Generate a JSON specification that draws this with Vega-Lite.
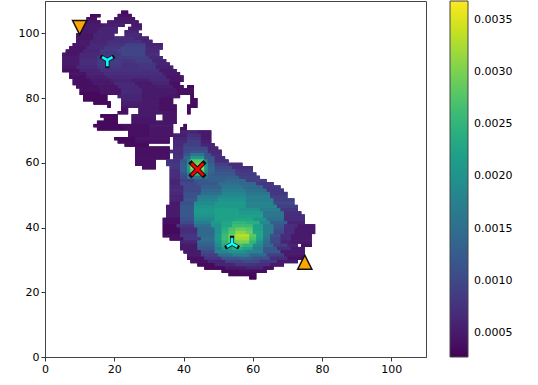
{"$schema":"https://vega.github.io/schema/vega-lite/v6.json","autosize":"none","padding":{"left":45,"top":1,"right":112,"bottom":28},"width":381,"height":356,"background":"white","config":{"view":{"stroke":"#444","strokeWidth":1},"font":"DejaVu Sans"},
"datasets":{"cells":[
{"x":22,"x2":24,"y":106.5,"v":0.00035},{"x":13,"x2":16,"y":105.5,"v":0.00035},{"x":21,"x2":25,"y":105.5,"v":0.0004},{"x":12,"x2":15,"y":104.5,"v":0.0004},{"x":20,"x2":26,"y":104.5,"v":0.00045},{"x":11,"x2":16,"y":103.5,"v":0.00045},{"x":18,"x2":22,"y":103.5,"v":0.0005},{"x":22,"x2":27,"y":103.5,"v":0.0005},{"x":11,"x2":17,"y":102.5,"v":0.0005},{"x":17,"x2":23,"y":102.5,"v":0.00055},{"x":25,"x2":28,"y":102.5,"v":0.0005},{"x":10,"x2":16,"y":101.5,"v":0.0005},{"x":16,"x2":21,"y":101.5,"v":0.0006},{"x":24,"x2":28,"y":101.5,"v":0.00055},{"x":10,"x2":15,"y":100.5,"v":0.0005},{"x":15,"x2":21,"y":100.5,"v":0.0006},{"x":23,"x2":27,"y":100.5,"v":0.0006},{"x":9,"x2":14,"y":99.5,"v":0.00045},{"x":14,"x2":20,"y":99.5,"v":0.0006},{"x":23,"x2":28,"y":99.5,"v":0.00065},{"x":9,"x2":14,"y":98.5,"v":0.00045},{"x":14,"x2":20,"y":98.5,"v":0.0006},{"x":20,"x2":26,"y":98.5,"v":0.0007},{"x":26,"x2":30,"y":98.5,"v":0.0006},{"x":9,"x2":13,"y":97.5,"v":0.0005},{"x":13,"x2":18,"y":97.5,"v":0.0006},{"x":18,"x2":24,"y":97.5,"v":0.0007},{"x":24,"x2":28,"y":97.5,"v":0.00075},{"x":28,"x2":31,"y":97.5,"v":0.0006},{"x":8,"x2":13,"y":96.5,"v":0.0005},{"x":13,"x2":18,"y":96.5,"v":0.00065},{"x":18,"x2":23,"y":96.5,"v":0.00075},{"x":23,"x2":29,"y":96.5,"v":0.0009},{"x":29,"x2":34,"y":96.5,"v":0.0006},{"x":7,"x2":12,"y":95.5,"v":0.00045},{"x":12,"x2":17,"y":95.5,"v":0.00065},{"x":17,"x2":22,"y":95.5,"v":0.0008},{"x":22,"x2":29,"y":95.5,"v":0.00095},{"x":29,"x2":34,"y":95.5,"v":0.00065},{"x":6,"x2":11,"y":94.5,"v":0.00045},{"x":11,"x2":16,"y":94.5,"v":0.0006},{"x":16,"x2":21,"y":94.5,"v":0.0008},{"x":21,"x2":29,"y":94.5,"v":0.00095},{"x":29,"x2":33,"y":94.5,"v":0.00065},{"x":5,"x2":10,"y":93.5,"v":0.00045},{"x":10,"x2":16,"y":93.5,"v":0.00065},{"x":16,"x2":22,"y":93.5,"v":0.0008},{"x":22,"x2":29,"y":93.5,"v":0.00095},{"x":29,"x2":33,"y":93.5,"v":0.0007},{"x":5,"x2":10,"y":92.5,"v":0.0005},{"x":10,"x2":15,"y":92.5,"v":0.00065},{"x":15,"x2":21,"y":92.5,"v":0.0008},{"x":21,"x2":25,"y":92.5,"v":0.00085},{"x":25,"x2":30,"y":92.5,"v":0.0009},{"x":30,"x2":34,"y":92.5,"v":0.00065},{"x":5,"x2":10,"y":91.5,"v":0.0005},{"x":10,"x2":15,"y":91.5,"v":0.0007},{"x":15,"x2":22,"y":91.5,"v":0.00085},{"x":22,"x2":26,"y":91.5,"v":0.0008},{"x":26,"x2":31,"y":91.5,"v":0.0009},{"x":31,"x2":35,"y":91.5,"v":0.0006},{"x":5,"x2":10,"y":90.5,"v":0.0005},{"x":10,"x2":15,"y":90.5,"v":0.0007},{"x":15,"x2":22,"y":90.5,"v":0.00085},{"x":22,"x2":27,"y":90.5,"v":0.00075},{"x":27,"x2":32,"y":90.5,"v":0.0008},{"x":32,"x2":36,"y":90.5,"v":0.0006},{"x":5,"x2":9,"y":89.5,"v":0.00045},{"x":9,"x2":15,"y":89.5,"v":0.00065},{"x":15,"x2":22,"y":89.5,"v":0.0008},{"x":22,"x2":27,"y":89.5,"v":0.00075},{"x":27,"x2":32,"y":89.5,"v":0.0008},{"x":32,"x2":37,"y":89.5,"v":0.00055},{"x":5,"x2":10,"y":88.5,"v":0.0004},{"x":10,"x2":16,"y":88.5,"v":0.0006},{"x":16,"x2":22,"y":88.5,"v":0.00075},{"x":22,"x2":28,"y":88.5,"v":0.00075},{"x":28,"x2":33,"y":88.5,"v":0.00075},{"x":33,"x2":38,"y":88.5,"v":0.0005},{"x":7,"x2":12,"y":87.5,"v":0.00045},{"x":12,"x2":17,"y":87.5,"v":0.0006},{"x":17,"x2":23,"y":87.5,"v":0.0007},{"x":23,"x2":29,"y":87.5,"v":0.0007},{"x":29,"x2":34,"y":87.5,"v":0.0007},{"x":34,"x2":39,"y":87.5,"v":0.0005},{"x":7,"x2":12,"y":86.5,"v":0.0004},{"x":12,"x2":18,"y":86.5,"v":0.00055},{"x":18,"x2":24,"y":86.5,"v":0.00065},{"x":24,"x2":29,"y":86.5,"v":0.00065},{"x":29,"x2":35,"y":86.5,"v":0.00065},{"x":35,"x2":40,"y":86.5,"v":0.00045},{"x":8,"x2":13,"y":85.5,"v":0.0004},{"x":13,"x2":19,"y":85.5,"v":0.0005},{"x":19,"x2":25,"y":85.5,"v":0.0006},{"x":25,"x2":30,"y":85.5,"v":0.00055},{"x":30,"x2":36,"y":85.5,"v":0.00065},{"x":36,"x2":40,"y":85.5,"v":0.00045},{"x":8,"x2":14,"y":84.5,"v":0.0004},{"x":14,"x2":20,"y":84.5,"v":0.0005},{"x":20,"x2":26,"y":84.5,"v":0.00065},{"x":26,"x2":31,"y":84.5,"v":0.0005},{"x":31,"x2":36,"y":84.5,"v":0.0006},{"x":36,"x2":39,"y":84.5,"v":0.0004},{"x":9,"x2":15,"y":83.5,"v":0.0004},{"x":15,"x2":21,"y":83.5,"v":0.00045},{"x":21,"x2":27,"y":83.5,"v":0.00065},{"x":27,"x2":32,"y":83.5,"v":0.0005},{"x":32,"x2":37,"y":83.5,"v":0.00055},{"x":37,"x2":40,"y":83.5,"v":0.0004},{"x":41,"x2":43,"y":83.5,"v":0.00035},{"x":10,"x2":16,"y":82.5,"v":0.0004},{"x":16,"x2":22,"y":82.5,"v":0.00045},{"x":22,"x2":28,"y":82.5,"v":0.00065},{"x":28,"x2":33,"y":82.5,"v":0.0005},{"x":33,"x2":38,"y":82.5,"v":0.0005},{"x":38,"x2":43,"y":82.5,"v":0.0004},{"x":10,"x2":16,"y":81.5,"v":0.00035},{"x":16,"x2":22,"y":81.5,"v":0.00045},{"x":22,"x2":28,"y":81.5,"v":0.00065},{"x":28,"x2":34,"y":81.5,"v":0.0005},{"x":34,"x2":38,"y":81.5,"v":0.0005},{"x":38,"x2":43,"y":81.5,"v":0.0004},{"x":11,"x2":18,"y":80.5,"v":0.00035},{"x":21,"x2":28,"y":80.5,"v":0.0006},{"x":28,"x2":34,"y":80.5,"v":0.0005},{"x":34,"x2":39,"y":80.5,"v":0.00045},{"x":42,"x2":43,"y":80.5,"v":0.00035},{"x":11,"x2":18,"y":79.5,"v":0.00035},{"x":22,"x2":28,"y":79.5,"v":0.0006},{"x":28,"x2":33,"y":79.5,"v":0.0005},{"x":33,"x2":37,"y":79.5,"v":0.0004},{"x":42,"x2":44,"y":79.5,"v":0.00035},{"x":14,"x2":19,"y":78.5,"v":0.00035},{"x":22,"x2":28,"y":78.5,"v":0.00055},{"x":28,"x2":33,"y":78.5,"v":0.0005},{"x":33,"x2":37,"y":78.5,"v":0.0004},{"x":42,"x2":44,"y":78.5,"v":0.00035},{"x":18,"x2":19,"y":77.5,"v":0.00035},{"x":22,"x2":28,"y":77.5,"v":0.0005},{"x":28,"x2":33,"y":77.5,"v":0.0005},{"x":33,"x2":38,"y":77.5,"v":0.0004},{"x":41,"x2":44,"y":77.5,"v":0.00035},{"x":22,"x2":24,"y":76.5,"v":0.0004},{"x":27,"x2":33,"y":76.5,"v":0.0005},{"x":33,"x2":38,"y":76.5,"v":0.0004},{"x":41,"x2":42,"y":76.5,"v":0.00035},{"x":21,"x2":24,"y":75.5,"v":0.0004},{"x":27,"x2":33,"y":75.5,"v":0.0005},{"x":33,"x2":38,"y":75.5,"v":0.00045},{"x":41,"x2":42,"y":75.5,"v":0.00035},{"x":16,"x2":21,"y":74.5,"v":0.00035},{"x":25,"x2":32,"y":74.5,"v":0.0005},{"x":34,"x2":38,"y":74.5,"v":0.00045},{"x":17,"x2":21,"y":73.5,"v":0.00035},{"x":25,"x2":32,"y":73.5,"v":0.00045},{"x":34,"x2":38,"y":73.5,"v":0.00045},{"x":15,"x2":21,"y":72.5,"v":0.00035},{"x":25,"x2":32,"y":72.5,"v":0.00045},{"x":32,"x2":38,"y":72.5,"v":0.00045},{"x":14,"x2":22,"y":71.5,"v":0.00035},{"x":22,"x2":30,"y":71.5,"v":0.0004},{"x":30,"x2":37,"y":71.5,"v":0.0005},{"x":40,"x2":41,"y":71.5,"v":0.00035},{"x":15,"x2":23,"y":70.5,"v":0.00035},{"x":23,"x2":30,"y":70.5,"v":0.0004},{"x":30,"x2":37,"y":70.5,"v":0.00045},{"x":39,"x2":41,"y":70.5,"v":0.0004},{"x":24,"x2":30,"y":69.5,"v":0.0004},{"x":30,"x2":37,"y":69.5,"v":0.00045},{"x":39,"x2":44,"y":69.5,"v":0.0006},{"x":44,"x2":48,"y":69.5,"v":0.0005},{"x":24,"x2":30,"y":68.5,"v":0.0004},{"x":30,"x2":37,"y":68.5,"v":0.00045},{"x":37,"x2":41,"y":68.5,"v":0.00055},{"x":41,"x2":45,"y":68.5,"v":0.00075},{"x":45,"x2":48,"y":68.5,"v":0.0005},{"x":20,"x2":26,"y":67.5,"v":0.00035},{"x":26,"x2":36,"y":67.5,"v":0.00045},{"x":37,"x2":41,"y":67.5,"v":0.0006},{"x":41,"x2":45,"y":67.5,"v":0.0008},{"x":45,"x2":48,"y":67.5,"v":0.0005},{"x":21,"x2":26,"y":66.5,"v":0.00035},{"x":26,"x2":36,"y":66.5,"v":0.0004},{"x":37,"x2":41,"y":66.5,"v":0.00065},{"x":41,"x2":45,"y":66.5,"v":0.0009},{"x":45,"x2":48,"y":66.5,"v":0.00055},{"x":23,"x2":30,"y":65.5,"v":0.00035},{"x":37,"x2":40,"y":65.5,"v":0.00065},{"x":40,"x2":45,"y":65.5,"v":0.0009},{"x":45,"x2":49,"y":65.5,"v":0.0006},{"x":26,"x2":36,"y":64.5,"v":0.0004},{"x":37,"x2":40,"y":64.5,"v":0.0007},{"x":40,"x2":47,"y":64.5,"v":0.001},{"x":47,"x2":50,"y":64.5,"v":0.0006},{"x":26,"x2":36,"y":63.5,"v":0.0004},{"x":36,"x2":40,"y":63.5,"v":0.0007},{"x":40,"x2":42,"y":63.5,"v":0.001},{"x":42,"x2":47,"y":63.5,"v":0.0011},{"x":47,"x2":51,"y":63.5,"v":0.00065},{"x":26,"x2":36,"y":62.5,"v":0.0004},{"x":37,"x2":40,"y":62.5,"v":0.0007},{"x":40,"x2":42,"y":62.5,"v":0.0012},{"x":42,"x2":46,"y":62.5,"v":0.0016},{"x":46,"x2":48,"y":62.5,"v":0.0011},{"x":48,"x2":51,"y":62.5,"v":0.0007},{"x":26,"x2":36,"y":61.5,"v":0.0004},{"x":37,"x2":40,"y":61.5,"v":0.00075},{"x":40,"x2":42,"y":61.5,"v":0.0014},{"x":42,"x2":46,"y":61.5,"v":0.0021},{"x":46,"x2":49,"y":61.5,"v":0.0012},{"x":49,"x2":52,"y":61.5,"v":0.0007},{"x":26,"x2":32,"y":60.5,"v":0.0004},{"x":35,"x2":39,"y":60.5,"v":0.00075},{"x":39,"x2":41,"y":60.5,"v":0.0012},{"x":41,"x2":42,"y":60.5,"v":0.0018},{"x":42,"x2":46,"y":60.5,"v":0.0028},{"x":46,"x2":47,"y":60.5,"v":0.0018},{"x":47,"x2":49,"y":60.5,"v":0.0012},{"x":49,"x2":53,"y":60.5,"v":0.0007},{"x":26,"x2":32,"y":59.5,"v":0.0004},{"x":35,"x2":39,"y":59.5,"v":0.0008},{"x":39,"x2":41,"y":59.5,"v":0.0013},{"x":41,"x2":42,"y":59.5,"v":0.002},{"x":42,"x2":46,"y":59.5,"v":0.003},{"x":46,"x2":47,"y":59.5,"v":0.002},{"x":47,"x2":49,"y":59.5,"v":0.0013},{"x":49,"x2":53,"y":59.5,"v":0.0009},{"x":53,"x2":57,"y":59.5,"v":0.0007},{"x":28,"x2":32,"y":58.5,"v":0.0004},{"x":36,"x2":39,"y":58.5,"v":0.0008},{"x":39,"x2":41,"y":58.5,"v":0.0013},{"x":41,"x2":42,"y":58.5,"v":0.0021},{"x":42,"x2":46,"y":58.5,"v":0.0032},{"x":46,"x2":47,"y":58.5,"v":0.0021},{"x":47,"x2":49,"y":58.5,"v":0.0014},{"x":49,"x2":54,"y":58.5,"v":0.001},{"x":54,"x2":60,"y":58.5,"v":0.0007},{"x":36,"x2":39,"y":57.5,"v":0.0007},{"x":39,"x2":41,"y":57.5,"v":0.0013},{"x":41,"x2":42,"y":57.5,"v":0.002},{"x":42,"x2":46,"y":57.5,"v":0.0029},{"x":46,"x2":47,"y":57.5,"v":0.002},{"x":47,"x2":49,"y":57.5,"v":0.0014},{"x":49,"x2":55,"y":57.5,"v":0.0011},{"x":55,"x2":60,"y":57.5,"v":0.0008},{"x":36,"x2":39,"y":56.5,"v":0.0007},{"x":39,"x2":41,"y":56.5,"v":0.0011},{"x":41,"x2":42,"y":56.5,"v":0.0017},{"x":42,"x2":46,"y":56.5,"v":0.0025},{"x":46,"x2":47,"y":56.5,"v":0.0017},{"x":47,"x2":49,"y":56.5,"v":0.0013},{"x":49,"x2":55,"y":56.5,"v":0.0012},{"x":55,"x2":61,"y":56.5,"v":0.00085},{"x":36,"x2":39,"y":55.5,"v":0.0007},{"x":39,"x2":41,"y":55.5,"v":0.001},{"x":41,"x2":47,"y":55.5,"v":0.0016},{"x":47,"x2":50,"y":55.5,"v":0.0013},{"x":50,"x2":56,"y":55.5,"v":0.0013},{"x":56,"x2":62,"y":55.5,"v":0.0009},{"x":36,"x2":39,"y":54.5,"v":0.0006},{"x":39,"x2":43,"y":54.5,"v":0.0009},{"x":43,"x2":47,"y":54.5,"v":0.0012},{"x":47,"x2":52,"y":54.5,"v":0.0013},{"x":52,"x2":58,"y":54.5,"v":0.0014},{"x":58,"x2":64,"y":54.5,"v":0.0009},{"x":36,"x2":39,"y":53.5,"v":0.0006},{"x":39,"x2":44,"y":53.5,"v":0.001},{"x":44,"x2":50,"y":53.5,"v":0.0012},{"x":50,"x2":56,"y":53.5,"v":0.0015},{"x":56,"x2":61,"y":53.5,"v":0.0014},{"x":61,"x2":66,"y":53.5,"v":0.0008},{"x":36,"x2":40,"y":52.5,"v":0.00065},{"x":40,"x2":45,"y":52.5,"v":0.001},{"x":45,"x2":51,"y":52.5,"v":0.0013},{"x":51,"x2":57,"y":52.5,"v":0.0016},{"x":57,"x2":63,"y":52.5,"v":0.0014},{"x":63,"x2":68,"y":52.5,"v":0.0008},{"x":36,"x2":40,"y":51.5,"v":0.0007},{"x":40,"x2":45,"y":51.5,"v":0.001},{"x":45,"x2":51,"y":51.5,"v":0.0014},{"x":51,"x2":58,"y":51.5,"v":0.0017},{"x":58,"x2":64,"y":51.5,"v":0.0015},{"x":64,"x2":69,"y":51.5,"v":0.0008},{"x":36,"x2":40,"y":50.5,"v":0.00065},{"x":40,"x2":45,"y":50.5,"v":0.0011},{"x":45,"x2":51,"y":50.5,"v":0.0015},{"x":51,"x2":58,"y":50.5,"v":0.0018},{"x":58,"x2":65,"y":50.5,"v":0.0016},{"x":65,"x2":70,"y":50.5,"v":0.0008},{"x":36,"x2":40,"y":49.5,"v":0.0006},{"x":40,"x2":44,"y":49.5,"v":0.0011},{"x":44,"x2":50,"y":49.5,"v":0.0017},{"x":50,"x2":58,"y":49.5,"v":0.0019},{"x":58,"x2":65,"y":49.5,"v":0.0017},{"x":65,"x2":70,"y":49.5,"v":0.0009},{"x":36,"x2":40,"y":48.5,"v":0.0006},{"x":40,"x2":44,"y":48.5,"v":0.0012},{"x":44,"x2":50,"y":48.5,"v":0.0018},{"x":50,"x2":58,"y":48.5,"v":0.002},{"x":58,"x2":66,"y":48.5,"v":0.0017},{"x":66,"x2":72,"y":48.5,"v":0.0009},{"x":36,"x2":39,"y":47.5,"v":0.0005},{"x":39,"x2":43,"y":47.5,"v":0.0011},{"x":43,"x2":49,"y":47.5,"v":0.0019},{"x":49,"x2":58,"y":47.5,"v":0.0021},{"x":58,"x2":66,"y":47.5,"v":0.0018},{"x":66,"x2":72,"y":47.5,"v":0.001},{"x":35,"x2":39,"y":46.5,"v":0.0005},{"x":39,"x2":43,"y":46.5,"v":0.0012},{"x":43,"x2":49,"y":46.5,"v":0.002},{"x":49,"x2":58,"y":46.5,"v":0.0021},{"x":58,"x2":67,"y":46.5,"v":0.0018},{"x":67,"x2":73,"y":46.5,"v":0.0009},{"x":35,"x2":39,"y":45.5,"v":0.0005},{"x":39,"x2":43,"y":45.5,"v":0.0012},{"x":43,"x2":49,"y":45.5,"v":0.0021},{"x":49,"x2":56,"y":45.5,"v":0.0022},{"x":56,"x2":62,"y":45.5,"v":0.002},{"x":62,"x2":68,"y":45.5,"v":0.0017},{"x":68,"x2":73,"y":45.5,"v":0.0008},{"x":35,"x2":39,"y":44.5,"v":0.0005},{"x":39,"x2":43,"y":44.5,"v":0.0012},{"x":43,"x2":49,"y":44.5,"v":0.0021},{"x":49,"x2":56,"y":44.5,"v":0.0022},{"x":56,"x2":63,"y":44.5,"v":0.0021},{"x":63,"x2":69,"y":44.5,"v":0.0016},{"x":69,"x2":74,"y":44.5,"v":0.0007},{"x":35,"x2":39,"y":43.5,"v":0.0005},{"x":39,"x2":43,"y":43.5,"v":0.0012},{"x":43,"x2":49,"y":43.5,"v":0.002},{"x":49,"x2":56,"y":43.5,"v":0.0022},{"x":56,"x2":63,"y":43.5,"v":0.0022},{"x":63,"x2":69,"y":43.5,"v":0.0016},{"x":69,"x2":75,"y":43.5,"v":0.0007},{"x":34,"x2":39,"y":42.5,"v":0.0004},{"x":39,"x2":43,"y":42.5,"v":0.0011},{"x":43,"x2":49,"y":42.5,"v":0.0019},{"x":49,"x2":55,"y":42.5,"v":0.0022},{"x":55,"x2":60,"y":42.5,"v":0.0023},{"x":60,"x2":64,"y":42.5,"v":0.002},{"x":64,"x2":69,"y":42.5,"v":0.0015},{"x":69,"x2":75,"y":42.5,"v":0.0007},{"x":34,"x2":39,"y":41.5,"v":0.0004},{"x":39,"x2":43,"y":41.5,"v":0.001},{"x":43,"x2":48,"y":41.5,"v":0.0017},{"x":48,"x2":51,"y":41.5,"v":0.0021},{"x":51,"x2":54,"y":41.5,"v":0.0023},{"x":54,"x2":58,"y":41.5,"v":0.0025},{"x":58,"x2":62,"y":41.5,"v":0.0024},{"x":62,"x2":65,"y":41.5,"v":0.0019},{"x":65,"x2":70,"y":41.5,"v":0.0013},{"x":70,"x2":75,"y":41.5,"v":0.0006},{"x":34,"x2":38,"y":40.5,"v":0.00035},{"x":38,"x2":43,"y":40.5,"v":0.0008},{"x":43,"x2":48,"y":40.5,"v":0.0015},{"x":48,"x2":51,"y":40.5,"v":0.002},{"x":51,"x2":54,"y":40.5,"v":0.0023},{"x":54,"x2":57,"y":40.5,"v":0.0026},{"x":57,"x2":60,"y":40.5,"v":0.0026},{"x":60,"x2":63,"y":40.5,"v":0.0022},{"x":63,"x2":66,"y":40.5,"v":0.0017},{"x":66,"x2":69,"y":40.5,"v":0.0012},{"x":69,"x2":73,"y":40.5,"v":0.0007},{"x":73,"x2":78,"y":40.5,"v":0.0005},{"x":34,"x2":39,"y":39.5,"v":0.00035},{"x":39,"x2":44,"y":39.5,"v":0.0007},{"x":44,"x2":49,"y":39.5,"v":0.0014},{"x":49,"x2":51,"y":39.5,"v":0.002},{"x":51,"x2":53,"y":39.5,"v":0.0024},{"x":53,"x2":55,"y":39.5,"v":0.0027},{"x":55,"x2":58,"y":39.5,"v":0.0029},{"x":58,"x2":60,"y":39.5,"v":0.0028},{"x":60,"x2":63,"y":39.5,"v":0.0022},{"x":63,"x2":66,"y":39.5,"v":0.0017},{"x":66,"x2":69,"y":39.5,"v":0.0011},{"x":69,"x2":72,"y":39.5,"v":0.0007},{"x":72,"x2":78,"y":39.5,"v":0.0005},{"x":34,"x2":39,"y":38.5,"v":0.00035},{"x":39,"x2":44,"y":38.5,"v":0.0007},{"x":44,"x2":49,"y":38.5,"v":0.0014},{"x":49,"x2":51,"y":38.5,"v":0.002},{"x":51,"x2":53,"y":38.5,"v":0.0025},{"x":53,"x2":55,"y":38.5,"v":0.0028},{"x":55,"x2":58,"y":38.5,"v":0.0031},{"x":58,"x2":60,"y":38.5,"v":0.0029},{"x":60,"x2":63,"y":38.5,"v":0.0023},{"x":63,"x2":66,"y":38.5,"v":0.0017},{"x":66,"x2":69,"y":38.5,"v":0.001},{"x":69,"x2":72,"y":38.5,"v":0.0007},{"x":72,"x2":78,"y":38.5,"v":0.0005},{"x":34,"x2":39,"y":37.5,"v":0.0004},{"x":39,"x2":44,"y":37.5,"v":0.0008},{"x":44,"x2":49,"y":37.5,"v":0.0014},{"x":49,"x2":51,"y":37.5,"v":0.0021},{"x":51,"x2":53,"y":37.5,"v":0.0026},{"x":53,"x2":55,"y":37.5,"v":0.0029},{"x":55,"x2":59,"y":37.5,"v":0.0033},{"x":59,"x2":61,"y":37.5,"v":0.0028},{"x":61,"x2":63,"y":37.5,"v":0.0023},{"x":63,"x2":65,"y":37.5,"v":0.0017},{"x":65,"x2":68,"y":37.5,"v":0.0011},{"x":68,"x2":71,"y":37.5,"v":0.0007},{"x":71,"x2":77,"y":37.5,"v":0.0005},{"x":36,"x2":40,"y":36.5,"v":0.0004},{"x":40,"x2":45,"y":36.5,"v":0.0008},{"x":45,"x2":49,"y":36.5,"v":0.0015},{"x":49,"x2":51,"y":36.5,"v":0.0021},{"x":51,"x2":53,"y":36.5,"v":0.0026},{"x":53,"x2":55,"y":36.5,"v":0.0029},{"x":55,"x2":59,"y":36.5,"v":0.0032},{"x":59,"x2":61,"y":36.5,"v":0.0027},{"x":61,"x2":63,"y":36.5,"v":0.0022},{"x":63,"x2":65,"y":36.5,"v":0.0016},{"x":65,"x2":68,"y":36.5,"v":0.001},{"x":68,"x2":71,"y":36.5,"v":0.0007},{"x":71,"x2":77,"y":36.5,"v":0.0005},{"x":39,"x2":44,"y":35.5,"v":0.0006},{"x":44,"x2":49,"y":35.5,"v":0.0014},{"x":49,"x2":51,"y":35.5,"v":0.002},{"x":51,"x2":53,"y":35.5,"v":0.0025},{"x":53,"x2":56,"y":35.5,"v":0.0029},{"x":56,"x2":59,"y":35.5,"v":0.003},{"x":59,"x2":61,"y":35.5,"v":0.0025},{"x":61,"x2":63,"y":35.5,"v":0.002},{"x":63,"x2":65,"y":35.5,"v":0.0015},{"x":65,"x2":68,"y":35.5,"v":0.001},{"x":68,"x2":71,"y":35.5,"v":0.0006},{"x":71,"x2":77,"y":35.5,"v":0.0005},{"x":39,"x2":44,"y":34.5,"v":0.0005},{"x":44,"x2":49,"y":34.5,"v":0.0013},{"x":49,"x2":51,"y":34.5,"v":0.0019},{"x":51,"x2":54,"y":34.5,"v":0.0024},{"x":54,"x2":57,"y":34.5,"v":0.0027},{"x":57,"x2":60,"y":34.5,"v":0.0025},{"x":60,"x2":63,"y":34.5,"v":0.0019},{"x":63,"x2":66,"y":34.5,"v":0.0014},{"x":66,"x2":70,"y":34.5,"v":0.0009},{"x":70,"x2":73,"y":34.5,"v":0.0006},{"x":74,"x2":77,"y":34.5,"v":0.0004},{"x":39,"x2":44,"y":33.5,"v":0.0005},{"x":44,"x2":49,"y":33.5,"v":0.0012},{"x":49,"x2":51,"y":33.5,"v":0.0017},{"x":51,"x2":54,"y":33.5,"v":0.0021},{"x":54,"x2":57,"y":33.5,"v":0.0024},{"x":57,"x2":60,"y":33.5,"v":0.0022},{"x":60,"x2":63,"y":33.5,"v":0.0017},{"x":63,"x2":67,"y":33.5,"v":0.0012},{"x":67,"x2":71,"y":33.5,"v":0.0007},{"x":71,"x2":75,"y":33.5,"v":0.0005},{"x":40,"x2":45,"y":32.5,"v":0.0005},{"x":45,"x2":49,"y":32.5,"v":0.001},{"x":49,"x2":53,"y":32.5,"v":0.0018},{"x":53,"x2":58,"y":32.5,"v":0.002},{"x":58,"x2":63,"y":32.5,"v":0.0018},{"x":63,"x2":68,"y":32.5,"v":0.0012},{"x":68,"x2":75,"y":32.5,"v":0.0005},{"x":41,"x2":45,"y":31.5,"v":0.0005},{"x":45,"x2":50,"y":31.5,"v":0.0009},{"x":50,"x2":54,"y":31.5,"v":0.0015},{"x":54,"x2":59,"y":31.5,"v":0.0017},{"x":59,"x2":64,"y":31.5,"v":0.0014},{"x":64,"x2":69,"y":31.5,"v":0.0009},{"x":69,"x2":75,"y":31.5,"v":0.0005},{"x":41,"x2":46,"y":30.5,"v":0.0004},{"x":46,"x2":51,"y":30.5,"v":0.0008},{"x":51,"x2":56,"y":30.5,"v":0.0012},{"x":56,"x2":60,"y":30.5,"v":0.0013},{"x":60,"x2":65,"y":30.5,"v":0.0011},{"x":65,"x2":70,"y":30.5,"v":0.0007},{"x":70,"x2":75,"y":30.5,"v":0.0004},{"x":42,"x2":47,"y":29.5,"v":0.0004},{"x":47,"x2":52,"y":29.5,"v":0.0006},{"x":52,"x2":57,"y":29.5,"v":0.0009},{"x":57,"x2":62,"y":29.5,"v":0.001},{"x":62,"x2":67,"y":29.5,"v":0.0008},{"x":67,"x2":73,"y":29.5,"v":0.0005},{"x":44,"x2":49,"y":28.5,"v":0.00035},{"x":49,"x2":55,"y":28.5,"v":0.0006},{"x":55,"x2":61,"y":28.5,"v":0.0008},{"x":61,"x2":65,"y":28.5,"v":0.0007},{"x":65,"x2":69,"y":28.5,"v":0.0005},{"x":46,"x2":52,"y":27.5,"v":0.00035},{"x":52,"x2":58,"y":27.5,"v":0.0005},{"x":58,"x2":63,"y":27.5,"v":0.0006},{"x":63,"x2":66,"y":27.5,"v":0.0004},{"x":51,"x2":56,"y":26.5,"v":0.00035},{"x":56,"x2":64,"y":26.5,"v":0.0004},{"x":53,"x2":61,"y":25.5,"v":0.00035},{"x":59,"x2":61,"y":24.5,"v":0.0003}
]},
"layer":[{"data":{"name":"cells"},
"mark":{"type":"rect","height":3.3},
"encoding":{
"x":{"field":"x","type":"quantitative"},
"x2":{"field":"x2"},
"y":{"field":"y","type":"quantitative"},
"color":{"field":"v","type":"quantitative"}
}},
{"data":{"name":"cells"},
"mark":{"type":"rect","height":3.3},
"encoding":{
"x":{"field":"x","type":"quantitative"},
"x2":{"field":"x2"},
"y":{"field":"y","type":"quantitative"},
"color":{"field":"v","type":"quantitative"}
}},
{"data":{"name":"cells"},
"mark":{"type":"rect","height":3.3},
"encoding":{
"x":{"field":"x","type":"quantitative","scale":{"domain":[0,110],"nice":false},"axis":{"values":[0,20,40,60,80,100],"grid":false,"title":null,"labelFontSize":11,"labelColor":"#000","tickColor":"#333","domainColor":"#444","tickSize":4,"labelPadding":2,"labelFlush":false}},
"x2":{"field":"x2"},
"y":{"field":"y","type":"quantitative","scale":{"domain":[0,110],"nice":false},"axis":{"values":[0,20,40,60,80,100],"grid":false,"title":null,"labelFontSize":11,"labelColor":"#000","tickColor":"#333","domainColor":"#444","tickSize":4,"labelPadding":2}},
"color":{"field":"v","type":"quantitative","scale":{"scheme":"viridis","domain":[0.00027,0.00368]},"legend":{"title":null,"orient":"none","legendX":405,"legendY":0,"type":"gradient","gradientLength":356,"gradientThickness":18,"gradientStrokeColor":"#444","gradientStrokeWidth":1,"values":[0.0005,0.001,0.0015,0.002,0.0025,0.003,0.0035],"format":".4f","labelFontSize":11,"labelColor":"#000","labelOffset":6,"labelOverlap":false}}
}},
{"data":{"values":[{"x":10,"y":101.8}]},"mark":{"type":"point","shape":"M-1,-1L1,-1L0,1Z","size":200,"filled":true,"fill":"#ffa500","stroke":"#111","strokeWidth":1.5,"opacity":1},"encoding":{"x":{"field":"x","type":"quantitative"},"y":{"field":"y","type":"quantitative"}}},
{"data":{"values":[{"x":75,"y":29.3}]},"mark":{"type":"point","shape":"M0,-1L1,1L-1,1Z","size":200,"filled":true,"fill":"#ffa500","stroke":"#111","strokeWidth":1.5,"opacity":1},"encoding":{"x":{"field":"x","type":"quantitative"},"y":{"field":"y","type":"quantitative"}}},
{"data":{"values":[{"x":44,"y":58}]},"mark":{"type":"point","shape":"M-1,-1L1,1M-1,1L1,-1","size":144,"filled":false,"stroke":"#111","strokeWidth":4.5,"strokeCap":"square","opacity":1},"encoding":{"x":{"field":"x","type":"quantitative"},"y":{"field":"y","type":"quantitative"}}},
{"data":{"values":[{"x":44,"y":58}]},"mark":{"type":"point","shape":"M-1,-1L1,1M-1,1L1,-1","size":144,"filled":false,"stroke":"#f00","strokeWidth":2.5,"opacity":1},"encoding":{"x":{"field":"x","type":"quantitative"},"y":{"field":"y","type":"quantitative"}}},
{"data":{"values":[{"x":18,"y":91.7}]},"mark":{"type":"point","shape":"M0,0L0,1M0,0L-0.87,-0.5M0,0L0.87,-0.5","size":144,"filled":false,"stroke":"#111","strokeWidth":4,"strokeCap":"square","opacity":1},"encoding":{"x":{"field":"x","type":"quantitative"},"y":{"field":"y","type":"quantitative"}}},
{"data":{"values":[{"x":18,"y":91.7}]},"mark":{"type":"point","shape":"M0,0L0,1M0,0L-0.87,-0.5M0,0L0.87,-0.5","size":144,"filled":false,"stroke":"#0ff","strokeWidth":2.6,"opacity":1},"encoding":{"x":{"field":"x","type":"quantitative"},"y":{"field":"y","type":"quantitative"}}},
{"data":{"values":[{"x":54,"y":35}]},"mark":{"type":"point","shape":"M0,0L0,-1M0,0L-0.87,0.5M0,0L0.87,0.5","size":144,"filled":false,"stroke":"#111","strokeWidth":4,"strokeCap":"square","opacity":1},"encoding":{"x":{"field":"x","type":"quantitative"},"y":{"field":"y","type":"quantitative"}}},
{"data":{"values":[{"x":54,"y":35}]},"mark":{"type":"point","shape":"M0,0L0,-1M0,0L-0.87,0.5M0,0L0.87,0.5","size":144,"filled":false,"stroke":"#0ff","strokeWidth":2.6,"opacity":1},"encoding":{"x":{"field":"x","type":"quantitative"},"y":{"field":"y","type":"quantitative"}}}
]}
